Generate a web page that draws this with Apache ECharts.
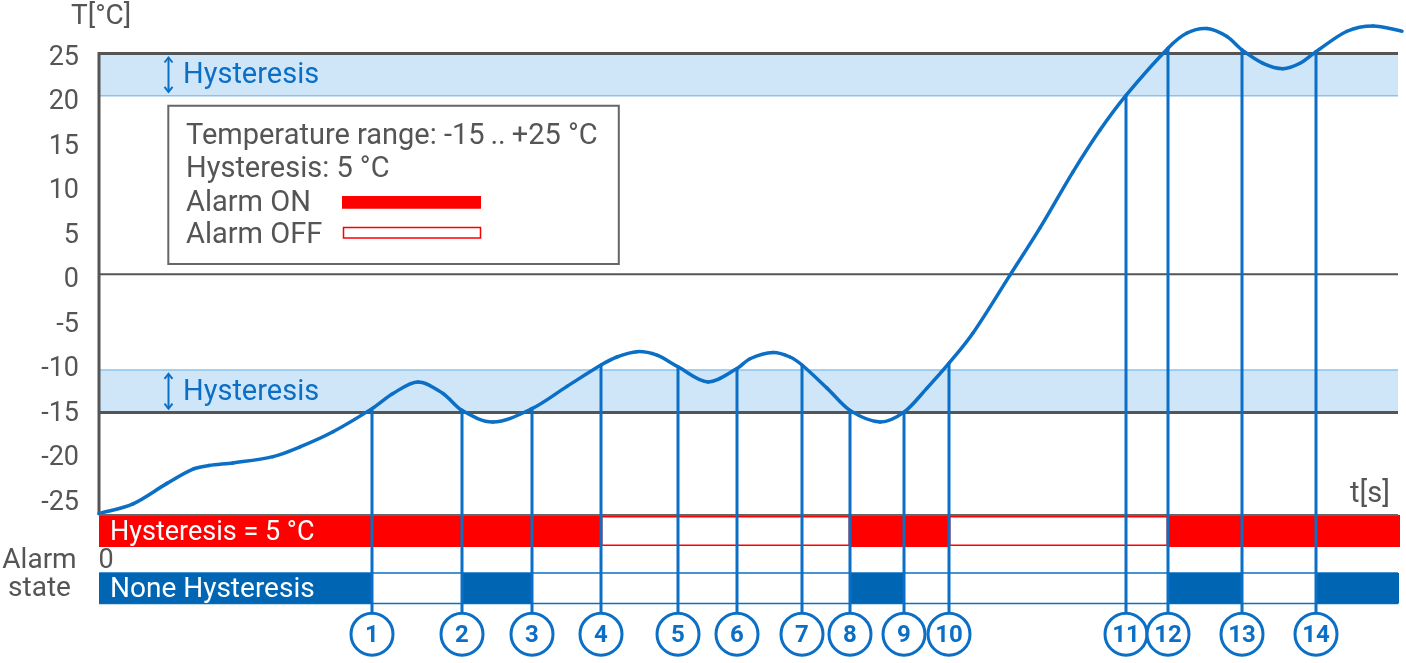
<!DOCTYPE html>
<html><head><meta charset="utf-8">
<script src="https://cdn.jsdelivr.net/npm/echarts@6/dist/echarts.min.js"></script>
<style>html,body{margin:0;padding:0;background:#fff}#c{width:1406px;height:663px}</style>
</head><body><div id="c"></div>
<script>
// ---------------- data ----------------
const yTickLabels = [-25, -20, -15, -10, -5, 0, 5, 10, 15, 20, 25];
const curveTime = [0, 3.4, 6.8, 9.4, 11.0, 13.4, 17.4, 20.1, 23.4, 27.3, 29.4, 31.9, 34.4, 36.3, 39.4, 43.3, 46.8, 50.2, 51.8, 53.8, 55.8, 57.9, 60.9, 63.8, 65.1, 67.4, 69.1, 70.3, 72.8, 75.1, 78.1, 80.5, 82.8, 85.0, 87.4, 91.1, 94.1, 97.4, 100.1, 102.7, 106.9, 108.8, 110.8, 112.8, 114.3, 116.4, 118.4, 120.1, 121.7, 124.8, 127.4, 130.3];
const curveTemp = [-26.7, -25.6, -23.3, -21.7, -21.3, -21.0, -20.3, -19.2, -17.5, -14.9, -13.2, -11.9, -13.2, -15.1, -16.4, -14.9, -12.4, -10.0, -9.1, -8.5, -8.9, -10.2, -11.9, -10.4, -9.3, -8.6, -9.1, -10.0, -12.6, -15.1, -16.4, -15.3, -12.6, -9.8, -6.4, 0.1, 5.4, 11.7, 16.4, 20.3, 25.6, 27.3, 27.8, 26.9, 25.4, 23.9, 23.3, 23.9, 25.2, 27.5, 28.1, 27.5];
const eventIds = ['1', '2', '3', '4', '5', '6', '7', '8', '9', '10', '11', '12', '13', '14'];
const eventTime = [27.3, 36.3, 43.3, 50.2, 57.9, 63.8, 70.3, 75.1, 80.5, 85.0, 102.7, 106.9, 114.3, 121.7];
const eventTemp = [-14.9, -15.1, -14.9, -10.0, -10.2, -10.4, -10.0, -15.1, -15.3, -9.8, 20.3, 25.6, 25.4, 25.2];
// alarm with hysteresis (1 = ON, 0 = OFF)
const hystSegStart = [0, 50.2, 75.1, 85.0, 106.9];
const hystSegEnd = [50.2, 75.1, 85.0, 106.9, 130.1];
const hystSegOn = [1, 0, 1, 0, 1];
// alarm without hysteresis: ON segments
const noneSegStart = [0, 36.3, 75.1, 106.9, 121.7];
const noneSegEnd = [27.3, 43.3, 80.5, 114.3, 130.0];
// band limits: [threshold, hysteresis edge]
const bandThreshold = [25.0, -15.35];
const bandEdge = [20.25, -10.55];
const zeroLine = 0.2;
const timeEnd = 129.9;

// ---------------- layout / style ----------------
const FONT = 'Roboto, "Liberation Sans", sans-serif';
const GRAY = '#555';
const BLUE = '#0b6fc6';
const BAR_BLUE = '#0066b3';
const RED = '#ff0000';
const BAND_FILL = '#cfe6f9';
const BAND_EDGE = '#8cc2ec';
const Y_MIN = -38, Y_MAX = 28.5;
const ROW_RED = [-26.85, -30.45];
const ROW_BLUE = [-33.37, -36.8];
const AXIS_BOTTOM = -26.85;

const chart = echarts.init(document.getElementById('c'));

function bandRender(params, api) {
  const thr = api.value(0), edge = api.value(1);
  const hi = Math.max(thr, edge), lo = Math.min(thr, edge);
  const a = api.coord([0, hi]), b = api.coord([timeEnd, lo]);
  const x0 = a[0], y0 = a[1], x1 = b[0], y1 = b[1];
  const yThr = api.coord([0, thr])[1], yEdge = api.coord([0, edge])[1];
  const ax = x0 + 69.5;
  const mid = (y0 + y1) / 2;
  return {
    type: 'group', children: [
      { type: 'rect', shape: { x: x0, y: y0, width: x1 - x0, height: y1 - y0 }, style: { fill: BAND_FILL } },
      { type: 'line', shape: { x1: x0, y1: yEdge, x2: x1, y2: yEdge }, style: { stroke: BAND_EDGE, lineWidth: 1.5 } },
      { type: 'line', shape: { x1: x0, y1: yThr, x2: x1, y2: yThr }, style: { stroke: GRAY, lineWidth: 3 } },
      { type: 'line', shape: { x1: ax, y1: y0 + 4, x2: ax, y2: y1 - 4 }, style: { stroke: BLUE, lineWidth: 2 } },
      { type: 'polyline', shape: { points: [[ax - 4, y0 + 9], [ax, y0 + 4], [ax + 4, y0 + 9]] }, style: { stroke: BLUE, lineWidth: 2, fill: null } },
      { type: 'polyline', shape: { points: [[ax - 4, y1 - 9], [ax, y1 - 4], [ax + 4, y1 - 9]] }, style: { stroke: BLUE, lineWidth: 2, fill: null } },
      { type: 'text', x: x0 + 84, y: mid + 1.5, style: { text: 'Hysteresis', font: '29px ' + FONT, fill: BLUE, verticalAlign: 'middle', align: 'left' } }
    ]
  };
}

function frameRender(params, api) {
  const top = api.coord([0, bandThreshold[0]]);
  const bot = api.coord([0, AXIS_BOTTOM]);
  const z0 = api.coord([0, zeroLine]), z1 = api.coord([timeEnd, zeroLine]);
  const bt = api.coord([0, ROW_BLUE[0]]), bb = api.coord([timeEnd, ROW_BLUE[1]]);
  return {
    type: 'group', children: [
      { type: 'line', shape: { x1: top[0], y1: top[1] - 1.5, x2: bot[0], y2: bot[1] }, style: { stroke: GRAY, lineWidth: 3 } },
      { type: 'line', shape: { x1: z0[0], y1: z0[1], x2: z1[0], y2: z1[1] }, style: { stroke: GRAY, lineWidth: 2 } },
      { type: 'line', shape: { x1: bt[0], y1: bt[1], x2: bb[0], y2: bt[1] }, style: { stroke: BLUE, lineWidth: 1.5 } },
      { type: 'line', shape: { x1: bt[0], y1: bb[1], x2: bb[0], y2: bb[1] }, style: { stroke: BLUE, lineWidth: 1.5 } }
    ]
  };
}

// smooth temperature curve: cubic Hermite segments between the read points
function curveRender(params, api) {
  const n = curveTime.length;
  const i = params.dataIndex;
  if (i >= n - 1) return null;
  const P = k => api.coord([curveTime[k], curveTemp[k]]);
  const slope = k => {
    const a = P(Math.max(0, k - 1)), b = P(Math.min(n - 1, k + 1));
    return (b[1] - a[1]) / (b[0] - a[0]);
  };
  const p1 = P(i), p2 = P(i + 1);
  const dx = (p2[0] - p1[0]) / 3;
  const m1 = slope(i), m2 = slope(i + 1);
  return {
    type: 'bezierCurve',
    shape: { x1: p1[0], y1: p1[1], x2: p2[0], y2: p2[1], cpx1: p1[0] + dx, cpy1: p1[1] + m1 * dx, cpx2: p2[0] - dx, cpy2: p2[1] - m2 * dx },
    style: { stroke: BLUE, lineWidth: 3.5, fill: null, lineCap: 'round' }
  };
}

function hystRender(params, api) {
  const s = api.value(0), e = api.value(1), on = api.value(2);
  const a = api.coord([s, ROW_RED[0]]), b = api.coord([e, ROW_RED[1]]);
  if (on) {
    return { type: 'rect', shape: { x: a[0], y: a[1], width: b[0] - a[0], height: b[1] - a[1] }, style: { fill: RED } };
  }
  return { type: 'rect', shape: { x: a[0] + 0.75, y: a[1] + 1.75, width: b[0] - a[0] - 1.5, height: b[1] - a[1] - 3.5 }, style: { fill: '#fff', stroke: RED, lineWidth: 1.5 } };
}

function noneRender(params, api) {
  const s = api.value(0), e = api.value(1);
  const a = api.coord([s, ROW_BLUE[0]]), b = api.coord([e, ROW_BLUE[1]]);
  return { type: 'rect', shape: { x: a[0], y: a[1], width: b[0] - a[0], height: b[1] - a[1] }, style: { fill: BAR_BLUE } };
}

function axisBottomRender(params, api) {
  const a = api.coord([0, AXIS_BOTTOM]), b = api.coord([timeEnd, AXIS_BOTTOM]);
  return { type: 'line', shape: { x1: a[0], y1: a[1], x2: b[0], y2: b[1] }, style: { stroke: '#666', lineWidth: 2 } };
}

function eventRender(params, api) {
  const t = api.value(0), T = api.value(1);
  const top = api.coord([t, T]), bot = api.coord([t, Y_MIN]);
  const cy = bot[1] + 20;
  return {
    type: 'group', children: [
      { type: 'line', shape: { x1: top[0], y1: top[1], x2: bot[0], y2: bot[1] }, style: { stroke: BLUE, lineWidth: 3 } },
      { type: 'circle', shape: { cx: bot[0], cy: cy, r: 21 }, style: { fill: '#fff', stroke: BLUE, lineWidth: 3 } },
      { type: 'text', x: bot[0], y: cy + 1.5, style: { text: eventIds[params.dataIndex], font: 'bold 24px ' + FONT, fill: BLUE, align: 'center', verticalAlign: 'middle' } }
    ]
  };
}

const txt = (x, y, text, opts) => Object.assign({ type: 'text', x: x, y: y, z: 100, style: Object.assign({ text: text, font: '28px ' + FONT, fill: GRAY, verticalAlign: 'middle', align: 'left' }, opts || {}) });

const option = {
  animation: false,
  backgroundColor: '#fff',
  grid: { left: 99, right: 4, top: 22.35, bottom: 48.8, containLabel: false, outerBoundsMode: 'none' },
  xAxis: { type: 'value', min: 0, max: 130.3, show: false },
  yAxis: {
    type: 'value', min: Y_MIN, max: Y_MAX,
    axisLine: { show: false }, axisTick: { show: false }, splitLine: { show: false },
    axisLabel: {
      customValues: yTickLabels, margin: 20,
      formatter: v => '{t|' + v + '}',
      rich: { t: { fontSize: 27, fontFamily: FONT, color: GRAY, padding: [9, 0, 0, 0] } }
    }
  },
  series: [
    { type: 'custom', name: 'bands', z: 1, renderItem: bandRender, data: bandThreshold.map((v, i) => [v, bandEdge[i]]), encode: { x: -1, y: -1 }, silent: true },
    { type: 'custom', name: 'frame', z: 2, renderItem: frameRender, data: [[0]], encode: { x: -1, y: -1 }, silent: true },
    { type: 'custom', name: 'T', z: 3, renderItem: curveRender, data: curveTime.map((t, i) => [t, curveTemp[i]]), silent: true },
    { type: 'custom', name: 'Hysteresis = 5 °C', z: 4, renderItem: hystRender, data: hystSegStart.map((s, i) => [s, hystSegEnd[i], hystSegOn[i]]), encode: { x: -1, y: -1 }, silent: true },
    { type: 'custom', name: 'None Hysteresis', z: 4, renderItem: noneRender, data: noneSegStart.map((s, i) => [s, noneSegEnd[i]]), encode: { x: -1, y: -1 }, silent: true },
    { type: 'custom', name: 'axis', z: 5, renderItem: axisBottomRender, data: [[0]], encode: { x: -1, y: -1 }, silent: true },
    { type: 'custom', name: 'events', z: 6, renderItem: eventRender, data: eventTime.map((t, i) => [t, eventTemp[i]]), silent: true }
  ],
  graphic: [
    txt(71, 17, 'T[°C]'),
    txt(1350, 495, 't[s]', { font: '29px ' + FONT }),
    txt(39.5, 561, 'Alarm', { align: 'center' }),
    txt(39.5, 588.5, 'state', { align: 'center' }),
    txt(98.5, 561.5, '0', { font: '27px ' + FONT }),
    txt(110, 533, 'Hysteresis = 5 °C', { fill: '#fff', font: '27px ' + FONT }),
    txt(110, 590, 'None Hysteresis', { fill: '#fff' }),
    { type: 'rect', z: 99, shape: { x: 168.3, y: 105.7, width: 450.5, height: 158.3 }, style: { fill: '#fff', stroke: '#666', lineWidth: 2 } },
    txt(186, 136.5, 'Temperature range: -15\u2009..\u2009+25 °C', { font: '29px ' + FONT }),
    txt(186, 169.5, 'Hysteresis: 5 °C', { font: '29px ' + FONT }),
    txt(186, 203.5, 'Alarm ON', { font: '29px ' + FONT }),
    txt(186, 235.5, 'Alarm OFF', { font: '29px ' + FONT }),
    { type: 'rect', z: 100, shape: { x: 342, y: 196, width: 139, height: 12.7 }, style: { fill: RED } },
    { type: 'rect', z: 100, shape: { x: 343.5, y: 227.5, width: 137, height: 10.5 }, style: { fill: '#fff', stroke: RED, lineWidth: 1.5 } }
  ]
};
chart.setOption(option);
</script>
</body></html>
